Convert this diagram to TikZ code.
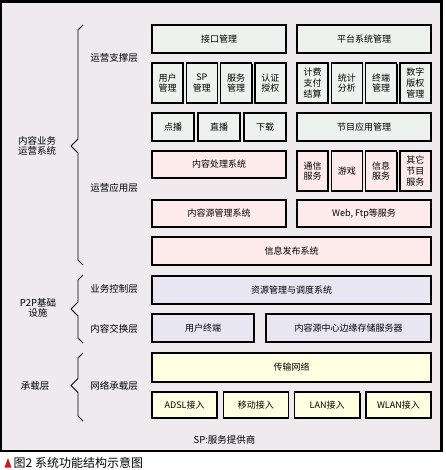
\documentclass[tikz,border=0pt]{standalone}
\usepackage{fontspec}
\newfontfamily\cjk{Noto Sans CJK SC}
\usepackage{tikz}
\usetikzlibrary{shadows}

\definecolor{bgcol}{RGB}{238,234,238}
\definecolor{greybox}{RGB}{238,242,238}
\definecolor{pinkbox}{RGB}{253,235,235}
\definecolor{lilacbox}{RGB}{232,230,242}
\definecolor{yellowbox}{RGB}{255,255,226}
\definecolor{capred}{RGB}{205,25,35}

\tikzset{
	box/.style={draw, line width=1.4pt, inner sep=0pt, align=center,
		font=\cjk\fontsize{9}{10.7}\selectfont,
		general shadow={fill=black, shadow xshift=1pt, shadow yshift=-1pt}},
	colbox/.style={box, minimum width=134pt, minimum height=28pt},
	fullbox/.style={box, minimum width=279pt, minimum height=28pt},
	smallbox/.style={box, minimum width=31pt, minimum height=40pt},
	lbl/.style={inner sep=0pt, align=center, font=\cjk\fontsize{9.5}{10.5}\selectfont},
	brace/.style={line width=0.9pt, line join=round}
}

\begin{document}
\begin{tikzpicture}[x=1pt,y=-1pt]
	% Define column centres
	\def\lx{219}
	\def\rx{364}
	\def\fx{291.5}
	
	\useasboundingbox (0,0) rectangle (445,470);
	\fill[white] (0,0) rectangle (445,470);
	\draw[line width=2.5pt, fill=bgcol] (1.2,1.5) rectangle (441.3,450.8);
	
	%operation support layer
	\node[colbox,fill=greybox] (jiekou) at (\lx,39) {接口管理};
	\node[colbox,fill=greybox] (pingtai) at (\rx,39) {平台系统管理};
	\foreach \t [count=\i from 0] in {用户\\管理,SP\\管理,服务\\管理,认证\\授权} {
		\node[smallbox,fill=greybox] (mgmt\i) at (167.5+\i*34.33,83) {\t};
	}
	\foreach \t [count=\i from 0] in {计费\\支付\\结算,统计\\分析,终端\\管理,数字\\版权\\管理} {
		\node[smallbox,fill=greybox] (plat\i) at (312.5+\i*34.33,83) {\t};
	}
	\foreach \t [count=\i from 0] in {点播,直播,下载} {
		\node[box,fill=greybox,minimum width=42pt,minimum height=28pt] (play\i) at (173+\i*46,127) {\t};
	}
	\node[colbox,fill=greybox] (jiemu) at (\rx,127) {节目应用管理};
	
	%operation application layer
	\node[colbox,fill=pinkbox,minimum height=27pt] (chuli) at (\lx,164.5) {内容处理系统};
	\foreach \t [count=\i from 0] in {通信\\服务,游戏,信息\\服务,其它\\节目\\服务} {
		\node[smallbox,fill=pinkbox] (serv\i) at (312.5+\i*34.33,171) {\t};
	}
	\node[colbox,fill=pinkbox,minimum height=27pt] (yuan) at (\lx,213.5) {内容源管理系统};
	\node[colbox,fill=pinkbox,minimum height=27pt] (web) at (\rx,213.5) {Web, Ftp等服务};
	\node[fullbox,fill=pinkbox] (fabu) at (\fx,251) {信息发布系统};
	
	%p2p layers
	\node[fullbox,fill=lilacbox] (ziyuan) at (\fx,290) {资源管理与调度系统};
	\node[box,fill=lilacbox,minimum width=102pt,minimum height=28pt] (zhongduan) at (203,328) {用户终端};
	\node[box,fill=lilacbox,minimum width=165pt,minimum height=28pt] (cunchu) at (348.5,328) {内容源中心边缘存储服务器};
	
	%bearer layer
	\node[fullbox,fill=yellowbox,minimum height=29pt] (chuanshu) at (\fx,367.5) {传输网络};
	\foreach \t [count=\i from 0] in {ADSL接入,移动接入,LAN接入,WLAN接入} {
		\node[box,fill=yellowbox,minimum width=65pt,minimum height=26pt] (acc\i) at (184.6+\i*71.27,405) {\t};
	}
	\node[lbl] (note) at (224.5,440) {SP:服务提供商};
	
	%layer names
	\node[lbl] (zhicheng) at (114,58) {运营支撑层};
	\node[lbl] (yingyong) at (114,188) {运营应用层};
	\node[lbl] (kongzhi) at (114,289) {业务控制层};
	\node[lbl] (jiaohuan) at (114,329) {内容交换层};
	\node[lbl] (wangluo) at (114,385.5) {网络承载层};
	
	\node[lbl] (yewu) at (37,146) {内容业务\\运营系统};
	\node[lbl] (p2p) at (38,308) {P2P基础\\设施};
	\node[lbl] (chengzai) at (35,385.5) {承载层};
	
	%braces
	\foreach \ya/\yb/\yc in {25/146/265, 275/309/343, 353/385.5/421} {
		\draw[brace] (83,\ya) -- (78,\ya+5) -- (78,\yb-7) -- (71,\yb) -- (78,\yb+7) -- (78,\yc-5) -- (83,\yc);
	}
	
	%caption
	\fill[capred] (4.5,467.5) -- (8,458) -- (11.5,467.5) -- cycle;
	\node[anchor=west, inner sep=0pt, font=\cjk\fontsize{12}{12}\selectfont] (caption) at (13.5,463) {图2\ 系统功能结构示意图};

\end{tikzpicture}
\end{document}
